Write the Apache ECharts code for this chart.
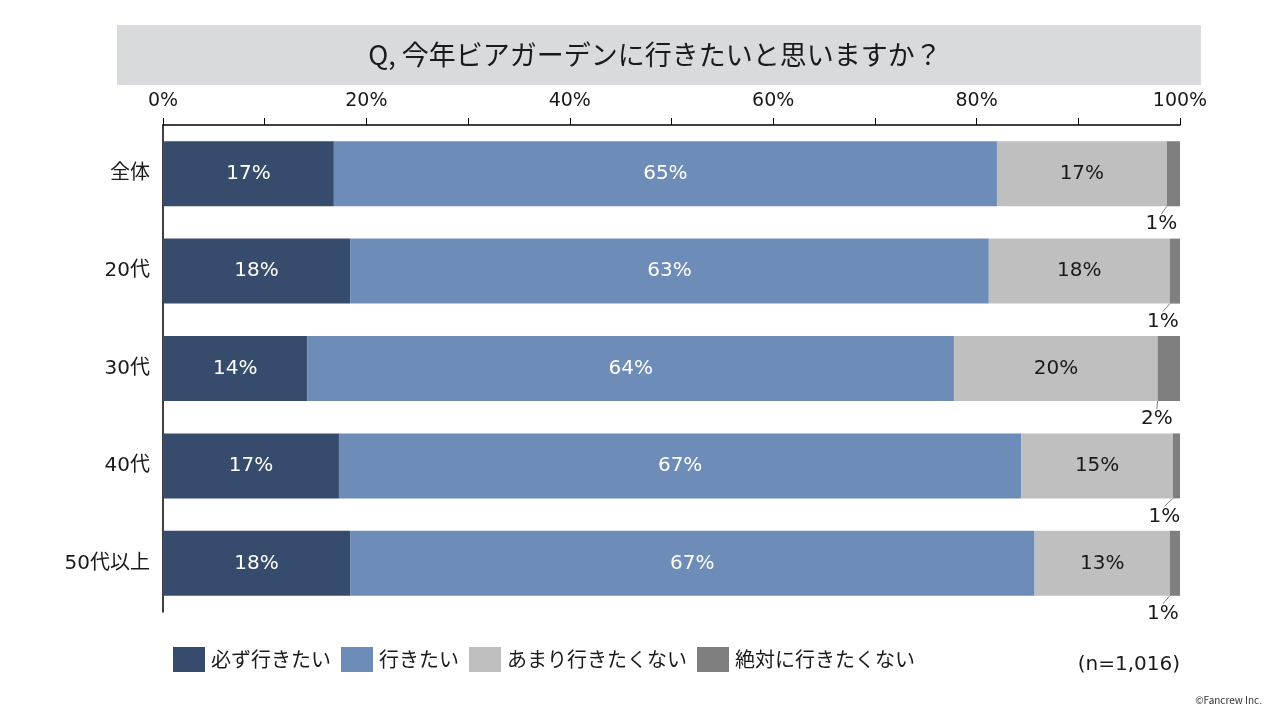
<!DOCTYPE html>
<html><head><meta charset="utf-8">
<script src="https://cdn.jsdelivr.net/npm/echarts@6/dist/echarts.min.js"></script>
<style>html,body{margin:0;padding:0;background:#fff}#c{width:1280px;height:720px}</style>
</head><body><div id="c"></div>
<script>
const categories = ['全体', '20代', '30代', '40代', '50代以上'];
const seriesNames = ['必ず行きたい', '行きたい', 'あまり行きたくない', '絶対に行きたくない'];
const mustGo = [16.8, 18.4, 14.2, 17.3, 18.4];
const wantGo = [65.2, 62.8, 63.6, 67.1, 67.3];
const ratherNot = [16.7, 17.8, 20.0, 14.9, 13.3];
const never = [1.3, 1.0, 2.2, 0.7, 1.0];
const xTicks = [0, 20, 40, 60, 80, 100];
const colors = ['#374c6d', '#6d8cb8', '#bfbfbf', '#7f7f7f'];
const FONT = '"DejaVu Sans", "Noto Sans CJK JP", sans-serif';
const CJK = '"Noto Sans CJK JP", sans-serif';

const chart = echarts.init(document.getElementById('c'));
const values = [mustGo, wantGo, ratherNot, never];
const labelColors = ['#ffffff', '#ffffff', '#1a1a1a', '#1a1a1a'];

const series = values.map((arr, i) => {
  const s = {
    name: seriesNames[i], type: 'bar', stack: 'all', data: arr,
    barWidth: 65,
    itemStyle: { color: colors[i] },
    label: {
      show: true, position: 'inside', color: labelColors[i],
      fontSize: 20, fontFamily: FONT,
      formatter: p => Math.round(p.value) + '%'
    }
  };
  if (i === 3) {
    s.label.position = 'bottom';
    s.label.distance = 8;
    s.labelLayout = { dx: -12 };
    s.labelLine = { show: true, length2: 0, lineStyle: { color: '#7f7f7f', width: 1 } };
  }
  return s;
});

chart.setOption({
  animation: false,
  textStyle: { fontFamily: FONT },
  graphic: [
    { type: 'rect', shape: { x: 117, y: 25, width: 1084, height: 60 }, style: { fill: '#d9dade' } },
    { type: 'text', x: 655, y: 55, style: { text: 'Q, 今年ビアガーデンに行きたいと思いますか？', font: '27px "Noto Sans CJK JP"', fill: '#1a1a1a', align: 'center', verticalAlign: 'middle' } },
    { type: 'text', x: 1180, y: 665, style: { text: '(n=1,016)', font: '20px "DejaVu Sans"', fill: '#1a1a1a', align: 'right', verticalAlign: 'middle' } },
    { type: 'text', x: 1262, y: 700, style: { text: '©Fancrew Inc.', font: '10px "Noto Sans CJK JP"', fill: '#333', align: 'right', verticalAlign: 'middle' } }
  ],
  legend: {
    left: 173, top: 647, padding: 0, itemWidth: 32, itemHeight: 25, itemGap: 10, icon: 'rect',
    textStyle: { fontSize: 20, color: '#1a1a1a', fontFamily: CJK, padding: [0, 0, 0, 1] },
    data: seriesNames
  },
  grid: { left: 163, right: 100, top: 125, height: 487 },
  xAxis: {
    type: 'value', position: 'top', min: 0, max: 100, interval: 10,
    axisLine: { show: true, lineStyle: { color: '#000', width: 1.5 } },
    axisTick: { show: true, length: 7, lineStyle: { color: '#000' } },
    splitLine: { show: false },
    axisLabel: {
      fontSize: 19, color: '#1a1a1a', margin: 14, fontFamily: FONT,
      formatter: v => xTicks.includes(v) ? v + '%' : ''
    }
  },
  yAxis: {
    type: 'category', data: categories, inverse: true,
    axisLine: { show: true, lineStyle: { color: '#000', width: 1.5 } },
    axisTick: { show: false },
    axisLabel: { fontSize: 20, color: '#1a1a1a', margin: 13, fontFamily: FONT }
  },
  series: series
});
</script></body></html>
